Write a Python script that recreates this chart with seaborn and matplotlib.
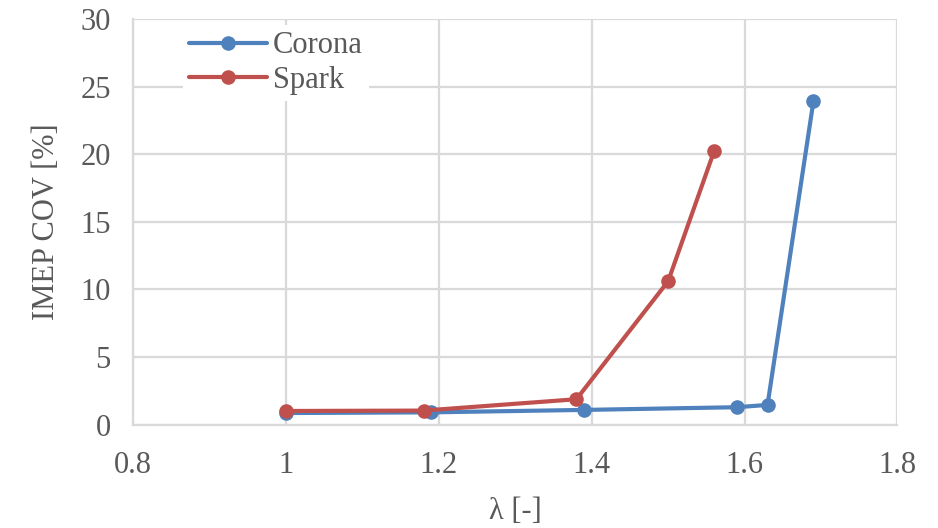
import matplotlib
matplotlib.use("Agg")
import matplotlib.pyplot as plt
import seaborn as sns
import pandas as pd

# Excess air ratio vs. cycle-to-cycle IMEP variation for each ignition system
corona_lambda = [1.00, 1.19, 1.39, 1.59, 1.63, 1.69]
corona_cov = [0.85, 0.9, 1.08, 1.28, 1.45, 23.9]
spark_lambda = [1.00, 1.18, 1.38, 1.50, 1.56]
spark_cov = [1.0, 1.03, 1.87, 10.6, 20.2]

series_names = ["Corona", "Spark"]
series_colors = ["#4F81BD", "#C0504D"]

x_ticks = [0.8, 1.0, 1.2, 1.4, 1.6, 1.8]
x_tick_labels = ["0.8", "1", "1.2", "1.4", "1.6", "1.8"]
y_ticks = [0, 5, 10, 15, 20, 25, 30]

df = pd.concat([
    pd.DataFrame({"lam": corona_lambda, "cov": corona_cov, "ignition": "Corona"}),
    pd.DataFrame({"lam": spark_lambda, "cov": spark_cov, "ignition": "Spark"}),
], ignore_index=True)

sns.set_theme(style="white")
plt.rcParams["font.family"] = ["Liberation Serif", "DejaVu Serif"]

text_color = "#595959"
grid_color = "#D9D9D9"

fig = plt.figure(figsize=(9.38, 5.28), dpi=100)
ax = fig.add_axes([0.1418, 0.196, 0.815, 0.768])

sns.lineplot(
    data=df, x="lam", y="cov", hue="ignition", hue_order=series_names,
    palette=series_colors, sort=False, marker="o", markersize=10.5,
    markeredgewidth=0, linewidth=3.0, ax=ax, legend=True,
)

ax.set_xlim(0.8, 1.8)
ax.set_ylim(0, 30)
ax.set_xticks(x_ticks)
ax.set_xticklabels(x_tick_labels)
ax.set_yticks(y_ticks)
ax.grid(True, color=grid_color, linewidth=1.6)
ax.set_axisbelow(True)
for side in ["top", "right"]:
    ax.spines[side].set_visible(False)
for side in ["left", "bottom"]:
    ax.spines[side].set_color(grid_color)
    ax.spines[side].set_linewidth(1.6)
ax.tick_params(axis="x", length=0, labelsize=22, labelcolor=text_color, pad=19)
ax.tick_params(axis="y", length=0, labelsize=22, labelcolor=text_color, pad=16)

ax.set_xlabel("λ [-]", fontsize=22, color=text_color, labelpad=12)
ax.set_ylabel("IMEP COV [%]", fontsize=22, color=text_color, labelpad=14)

leg = ax.legend(
    loc="upper left", bbox_to_anchor=(0.045, 1.022), fontsize=22,
    frameon=True, fancybox=False, framealpha=1.0, edgecolor="white",
    handlelength=2.55, handletextpad=0.2, borderpad=0.2, labelspacing=0.17,
)
leg.get_frame().set_linewidth(0)
for t in leg.get_texts():
    t.set_color(text_color)

fig.savefig("out.png", dpi=100)
